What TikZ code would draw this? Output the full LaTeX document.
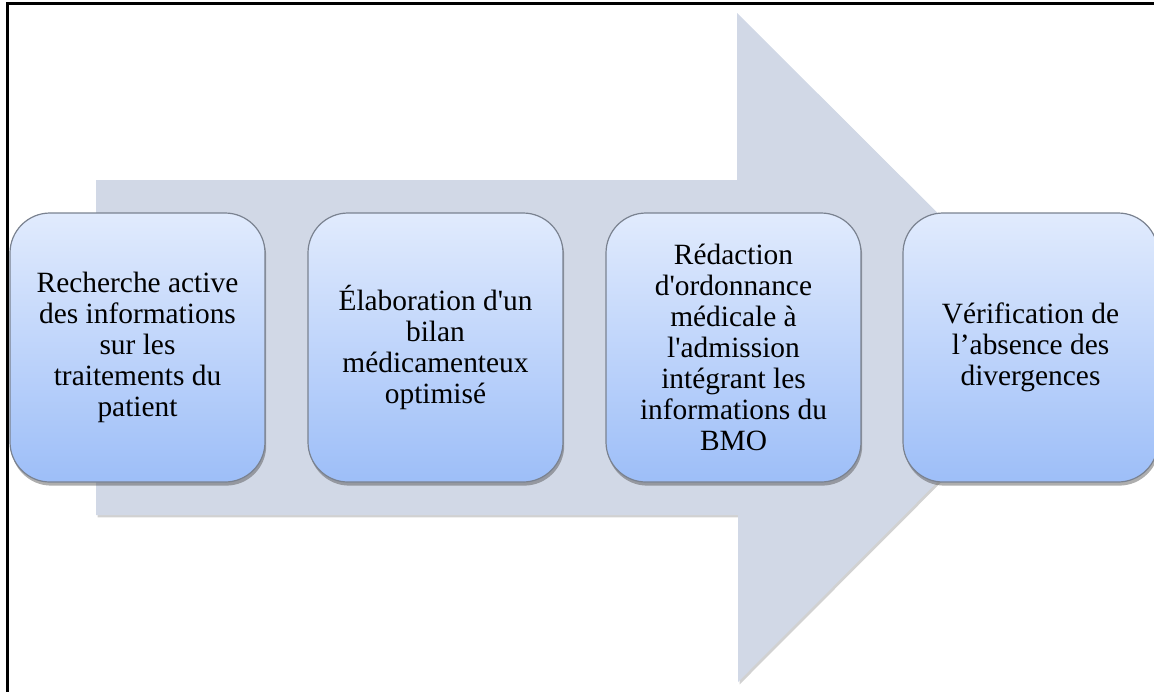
\documentclass[tikz,border=0pt]{standalone}
\usepackage{fontspec}
\setmainfont{Liberation Serif}
\usetikzlibrary{shadows}
\definecolor{arrowfill}{HTML}{D1D8E6}
\definecolor{boxtop}{HTML}{E1EBFD}
\definecolor{boxbottom}{HTML}{9DBEF8}
\definecolor{boxline}{HTML}{7A8290}
\tikzset{
  stage/.style={
    draw=boxline, line width=0.6pt,
    top color=boxtop, bottom color=boxbottom,
    rounded corners=20pt,
    minimum width=127.5pt, minimum height=134.5pt,
    inner sep=0pt, align=center,
    font=\fontsize{14.7}{15.5}\selectfont,
    drop shadow={shadow xshift=0.6pt, shadow yshift=-1.8pt, opacity=0.45, fill=black!70}
  },
  bigarrow/.style={
    fill=arrowfill,
    drop shadow={shadow xshift=0.8pt, shadow yshift=-1.2pt, opacity=0.3, fill=black!60}
  },
  frame/.style={line width=1.3pt, black}
}
\begin{document}
\begin{tikzpicture}[x=0.5pt, y=-0.5pt]
  \useasboundingbox (0,0) rectangle (1154,692);
  % background arrow
  \path[bigarrow] (96,180) -- (737,180) -- (737,13) -- (1072,347)
        -- (738,682) -- (738,515) -- (96,515) -- cycle;
  % the four steps
  \node[stage] (s1) at (137.5,347.5) {Recherche active\\des informations\\sur les\\traitements du\\patient};
  \node[stage] (s2) at (435.5,347.5) {Élaboration d\textquotesingle un\\bilan\\médicamenteux\\optimisé};
  \node[stage] (s3) at (733.5,347.5) {Rédaction\\d\textquotesingle ordonnance\\médicale à\\l\textquotesingle admission\\intégrant les\\informations du\\BMO};
  \node[stage] (s4) at (1030.5,347.5) {Vérification de\\l’absence des\\divergences};
  % frame lines (top and left)
  \coordinate (tl) at (7.5,3.5);
  \coordinate (tr) at (1154,3.5);
  \coordinate (bl) at (7.5,692);
  \draw[frame] (tr) -- (tl) -- (bl);
\end{tikzpicture}
\end{document}
